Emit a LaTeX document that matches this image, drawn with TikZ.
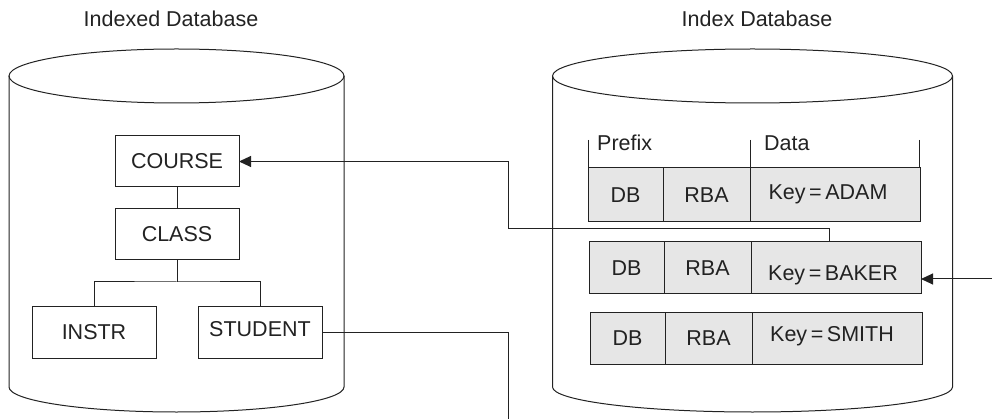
\documentclass[tikz,border=0pt]{standalone}
\usepackage{fontspec}
\setmainfont{Liberation Sans}
\usetikzlibrary{arrows.meta,calc}
\definecolor{rowgray}{HTML}{E6E6E6}
\definecolor{ink}{HTML}{222222}
\begin{document}
\begin{tikzpicture}[x=1pt,y=-1pt,
  every node/.style={font=\fontsize{21.5}{25}\selectfont, text=ink},
  cyl/.style={draw=ink, line width=1pt},
  seg/.style={draw=ink, line width=1pt},
  treebox/.style={draw=ink, line width=1pt, inner sep=0pt, outer sep=0pt,
    minimum width=124pt, anchor=north west, text height=15pt, text depth=0pt},
  cell/.style={draw=ink, line width=1pt, fill=rowgray, inner sep=0pt, outer sep=0pt,
    anchor=north west, text height=15pt, text depth=0pt},
  arr/.style={draw=ink, line width=1pt, -{Triangle[length=12pt,width=11pt]}}]
\useasboundingbox (0,0) rectangle (992,419);

% titles
\node (t1) at (171,19) {Indexed Database};
\node (t2) at (757,19) {Index Database};

% left cylinder
\draw[cyl] (176.5,76) ellipse [x radius=167.5, y radius=27];
\draw[cyl] (9,76) -- (9,387) arc[start angle=180, end angle=0, x radius=167.5, y radius=25] -- (344,76);

% right cylinder
\draw[cyl] (752.5,76) ellipse [x radius=200, y radius=27];
\draw[cyl] (552.5,76) -- (552.5,387) arc[start angle=180, end angle=0, x radius=200, y radius=25] -- (952.5,76);

% hierarchy
\node[treebox, minimum height=51pt] (course) at (115,136) {COURSE};
\node[treebox, minimum height=51pt] (class) at (115,209) {CLASS};
\node[treebox, minimum height=52pt] (instr) at (32,306) {INSTR};
\node[treebox, minimum height=52pt] (student) at (198,306) {\raisebox{3pt}{STUDENT}};
\draw[seg] (course.south) -- (class.north);
\draw[seg] (class.south) -- ++(0,22) coordinate (tj);
\draw[seg] (instr.north) |- (tj) -| (student.north);

% index table header
\node[anchor=west, inner sep=0pt] (prefix) at (597,143) {Prefix};
\node[anchor=west, inner sep=0pt] (data) at (764,143) {Data};
\draw[seg] (588,140) -- (588,168);
\draw[seg] (750,140) -- (750,168);
\draw[seg] (919.5,140) -- (919.5,168);

% rows
\node[cell, minimum width=75pt, minimum height=54pt] (db1) at (588,168) {DB};
\node[cell, minimum width=87pt, minimum height=54pt] (rba1) at (663,168) {RBA};
\node[cell, minimum width=170pt, minimum height=54pt] (key1) at (750,168) {\raisebox{3pt}{Key\,=\,ADAM}\hspace*{14pt}};

\node[cell, minimum width=75pt, minimum height=52pt] (db2) at (589,242) {DB};
\node[cell, minimum width=87pt, minimum height=52pt] (rba2) at (664,242) {RBA};
\node[cell, minimum width=170pt, minimum height=52pt] (key2) at (751,242) {\raisebox{-5pt}{Key\,=\,BAKER}\hspace*{6pt}};

\node[cell, minimum width=75pt, minimum height=52pt] (db3) at (590,312) {DB};
\node[cell, minimum width=87pt, minimum height=52pt] (rba3) at (665,312) {RBA};
\node[cell, minimum width=170pt, minimum height=52pt] (key3) at (752,312) {\raisebox{4pt}{Key\,=\,SMITH}\hspace*{10pt}};

% connectors
\coordinate (j1) at (508,229);
\draw[arr] ([xshift=-7pt]key2.north) |- (j1) |- (course.east);
\coordinate (sb) at (508,419);
\draw[seg] (student.east) -| (sb);
\coordinate (inb) at (992,279);
\draw[arr] (inb) -- (key2.east |- inb);
\end{tikzpicture}
\end{document}
